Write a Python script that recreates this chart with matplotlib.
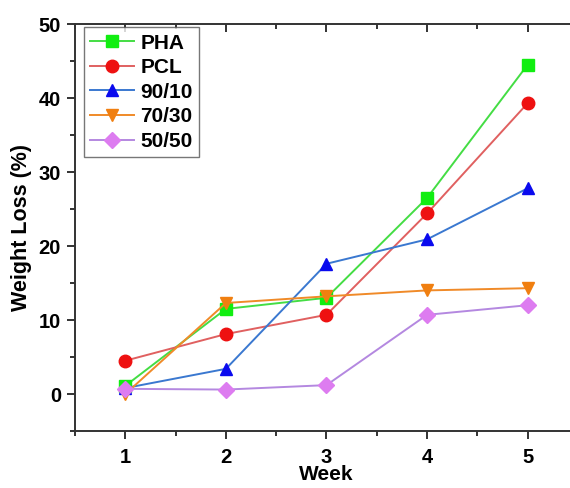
import matplotlib
matplotlib.use("Agg")
import matplotlib.pyplot as plt
from matplotlib.ticker import MultipleLocator

plt.rcParams['font.family'] = ['Liberation Sans', 'DejaVu Sans']
plt.rcParams['font.weight'] = 'bold'

weeks = [1, 2, 3, 4, 5]
pha = [1.1, 11.5, 13.0, 26.5, 44.5]
pcl = [4.5, 8.1, 10.7, 24.4, 39.3]
b90_10 = [0.8, 3.4, 17.6, 20.9, 27.8]
b70_30 = [0.0, 12.3, 13.2, 14.0, 14.3]
b50_50 = [0.7, 0.6, 1.2, 10.7, 12.0]

series = [
    ("PHA", pha, "s", "#44dd44", "#11ee11"),
    ("PCL", pcl, "o", "#e06060", "#ee1111"),
    ("90/10", b90_10, "^", "#3a78d0", "#0a0aee"),
    ("70/30", b70_30, "v", "#f08a28", "#f07f10"),
    ("50/50", b50_50, "D", "#b488e0", "#dd7cf0"),
]

fig = plt.figure(figsize=(5.7, 4.88), dpi=100)
ax = fig.add_axes([0.1316, 0.1168, 0.8824, 0.834])

for name, vals, mk, lc, mc in series:
    ms = 8 if mk == "D" else 9
    ax.plot(weeks, vals, color=lc, lw=1.4, marker=mk, markersize=ms,
            markerfacecolor=mc, markeredgecolor=mc, label=name)

ax.set_xlim(0.5, 5.5)
ax.set_ylim(-5, 50)
ax.xaxis.set_major_locator(MultipleLocator(1))
ax.xaxis.set_minor_locator(MultipleLocator(0.5))
ax.yaxis.set_major_locator(MultipleLocator(10))
ax.yaxis.set_minor_locator(MultipleLocator(5))

for s in ax.spines.values():
    s.set_linewidth(1.4)
    s.set_color("#333333")
ax.tick_params(which="both", direction="out", width=1.4, colors="#333333",
               labelsize=14.5, labelcolor="black", top=True, right=True)
ax.tick_params(which="major", length=6)
ax.tick_params(which="minor", length=3.5)
ax.tick_params(axis="x", pad=6)
ax.tick_params(axis="y", pad=4)
# top and right ticks point inward
for t in ax.xaxis.get_ticklines(minor=False)[1::2] + ax.xaxis.get_ticklines(minor=True)[1::2]:
    t.set_marker(3)
for t in ax.yaxis.get_ticklines(minor=False)[1::2] + ax.yaxis.get_ticklines(minor=True)[1::2]:
    t.set_marker(0)

ax.set_xlabel("Week", fontsize=15, fontweight="bold", labelpad=-1)
ax.set_ylabel("Weight Loss (%)", fontsize=15.5, fontweight="bold", labelpad=5)

leg = ax.legend(loc="upper left", bbox_to_anchor=(0.018, 0.992), fontsize=15,
                frameon=True, fancybox=False, edgecolor="#555555",
                handlelength=2.1, labelspacing=0.27, borderpad=0.3,
                borderaxespad=0.0, handletextpad=0.3)
leg.get_frame().set_linewidth(1.0)

fig.savefig("out.png", dpi=100)
